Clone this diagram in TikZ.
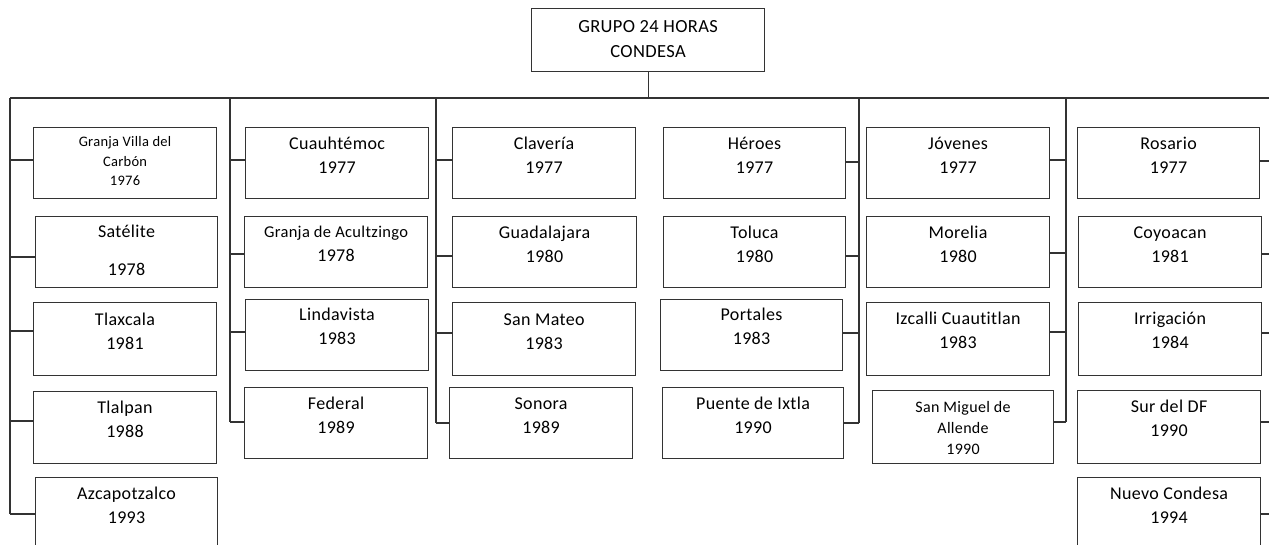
\documentclass[tikz,border=0pt]{standalone}
\usepackage{fontspec}
\setmainfont{Carlito}[LetterSpace=2,Ligatures=NoCommon]
\newcommand{\cell}[4]{\parbox[t][#2pt][t]{#1pt}{\centering\rule{0pt}{#3pt}#4}}
\begin{document}
\begin{tikzpicture}[x=1pt,y=-1pt,
  box/.style={draw=black!80, line width=1.1pt, inner sep=0pt, anchor=north west, font=\fontsize{18}{24}\selectfont},
  smallbox/.style={box, font=\fontsize{14.5}{19.5}\selectfont},
  link/.style={draw=black!80, line width=1.1pt}]
\useasboundingbox (0,0) rectangle (1269,544);
\clip (0,0) rectangle (1269,544);

% top
\node[box, font=\fontsize{18.5}{25}\selectfont] (top) at (531,8) {\cell{233}{63}{23.5}{GRUPO 24 HORAS\\CONDESA}};

% column 1
\node[smallbox] (b11) at (33,127) {\cell{183}{71}{19}{Granja Villa del\\Carbón\\1976}};
\node[box] (b12) at (35,216) {\cell{182}{71}{21}{Satélite\\[14pt]1978}};
\node[box] (b13) at (33,302) {\cell{183}{73}{23}{Tlaxcala\\1981}};
\node[box] (b14) at (33,391) {\cell{183}{72}{22}{Tlalpan\\1988}};
\node[box] (b15) at (35,477) {\cell{182}{80}{22}{Azcapotzalco\\1993}};

% column 2
\node[box] (b21) at (245,127) {\cell{183}{71}{22}{Cuauhtémoc\\1977}};
\node[box] (b22) at (244,216) {\cell{183}{71}{20.5}{{\fontsize{16.5}{24}\selectfont Granja de Acultzingo}\\1978}};
\node[box] (b23) at (245,299) {\cell{183}{71}{21}{Lindavista\\1983}};
\node[box] (b24) at (244,387) {\cell{183}{71}{22}{Federal\\1989}};

% column 3
\node[box] (b31) at (452,127) {\cell{183}{71}{22}{Clavería\\1977}};
\node[box] (b32) at (452,216) {\cell{184}{71}{22}{Guadalajara\\1980}};
\node[box] (b33) at (452,302) {\cell{183}{73}{23}{San Mateo\\1983}};
\node[box] (b34) at (449,387) {\cell{183}{71}{22}{Sonora\\1989}};

% column 4
\node[box] (b41) at (663,127) {\cell{182}{71}{22}{Héroes\\1977}};
\node[box] (b42) at (663,216) {\cell{182}{71}{22}{Toluca\\1980}};
\node[box] (b43) at (660,299) {\cell{182}{71}{21}{Portales\\1983}};
\node[box] (b44) at (662,387) {\cell{181}{71}{22}{Puente de Ixtla\\1990}};

% column 5
\node[box] (b51) at (866,127) {\cell{183}{71}{22}{Jóvenes\\1977}};
\node[box] (b52) at (866,216) {\cell{183}{71}{22}{Morelia\\1980}};
\node[box] (b53) at (866,302) {\cell{183}{73}{22}{Izcalli Cuautitlan\\1983}};
\node[box, font=\fontsize{16}{21}\selectfont] (b54) at (872,390) {\cell{181}{73}{22}{San Miguel de\\Allende\\1990}};

% column 6
\node[box] (b61) at (1077,127) {\cell{182}{71}{22}{Rosario\\1977}};
\node[box] (b62) at (1078,216) {\cell{183}{71}{22}{Coyoacan\\1981}};
\node[box] (b63) at (1078,302) {\cell{183}{73}{22}{Irrigación\\1984}};
\node[box] (b64) at (1077,390) {\cell{183}{73}{22}{Sur del DF\\1990}};
\node[box] (b65) at (1077,477) {\cell{183}{80}{22}{Nuevo Condesa\\1994}};

% bus coordinates
\coordinate (hl) at (10,98);
\coordinate (hr) at (1269,98);
\coordinate (bus1) at (10,98);   \coordinate (bus1e) at (10,514);
\coordinate (bus2) at (230,98);  \coordinate (bus2e) at (230,422);
\coordinate (bus3) at (436,98);  \coordinate (bus3e) at (436,423);
\coordinate (bus4) at (859,98);  \coordinate (bus4e) at (859,423);
\coordinate (bus5) at (1066,98); \coordinate (bus5e) at (1066,422);
\coordinate (bus6) at (1269,98);

% trunk
\draw[link] (top.south) -- (top.south |- hl);
\draw[link] (hl) -- (hr);
\draw[link] (bus1) -- (bus1e);
\draw[link] (bus2) -- (bus2e);
\draw[link] (bus3) -- (bus3e);
\draw[link] (bus4) -- (bus4e);
\draw[link] (bus5) -- (bus5e);

% branches column 1
\draw[link] (b11.west |- 0,160) -- (bus1 |- 0,160);
\draw[link] (b12.west |- 0,257) -- (bus1 |- 0,257);
\draw[link] (b13.west |- 0,331) -- (bus1 |- 0,331);
\draw[link] (b14.west |- 0,421) -- (bus1 |- 0,421);
\draw[link] (b15.west |- 0,514) -- (bus1 |- 0,514);
% column 2
\draw[link] (b21.west |- 0,160) -- (bus2 |- 0,160);
\draw[link] (b22.west |- 0,254) -- (bus2 |- 0,254);
\draw[link] (b23.west |- 0,332) -- (bus2 |- 0,332);
\draw[link] (b24.west |- 0,422) -- (bus2 |- 0,422);
% column 3
\draw[link] (b31.west |- 0,160) -- (bus3 |- 0,160);
\draw[link] (b32.west |- 0,256) -- (bus3 |- 0,256);
\draw[link] (b33.west |- 0,333) -- (bus3 |- 0,333);
\draw[link] (b34.west |- 0,423) -- (bus3 |- 0,423);
% column 4
\draw[link] (b41.east |- 0,162) -- (bus4 |- 0,162);
\draw[link] (b42.east |- 0,256) -- (bus4 |- 0,256);
\draw[link] (b43.east |- 0,333) -- (bus4 |- 0,333);
\draw[link] (b44.east |- 0,423) -- (bus4 |- 0,423);
% column 5
\draw[link] (b51.east |- 0,160) -- (bus5 |- 0,160);
\draw[link] (b52.east |- 0,253) -- (bus5 |- 0,253);
\draw[link] (b53.east |- 0,332) -- (bus5 |- 0,332);
\draw[link] (b54.east |- 0,422) -- (bus5 |- 0,422);
% column 6
\draw[link] (b61.east |- 0,161) -- (bus6 |- 0,161);
\draw[link] (b62.east |- 0,254) -- (bus6 |- 0,254);
\draw[link] (b63.east |- 0,333) -- (bus6 |- 0,333);
\draw[link] (b64.east |- 0,422) -- (bus6 |- 0,422);
\draw[link] (b65.east |- 0,514) -- (bus6 |- 0,514);
\end{tikzpicture}
\end{document}
